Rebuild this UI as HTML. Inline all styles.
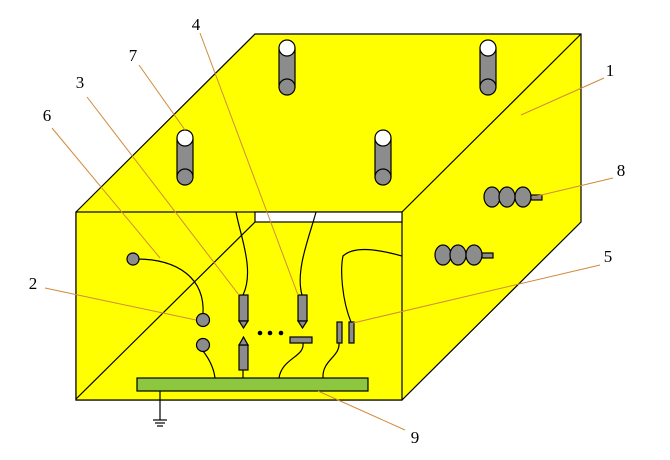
<!DOCTYPE html>
<html><head><style>body{margin:0;background:#fff}svg{display:block}</style></head><body>
<svg width="670" height="460" xmlns="http://www.w3.org/2000/svg" font-family="Liberation Serif, serif" font-size="17">
<g stroke="#000" stroke-width="1.2">
<polygon points="76,212 255,34 581,34 581,222 402,400 76,400" fill="#ffff00"/>
<line x1="402" y1="212" x2="581" y2="34"/>
<rect x="76" y="212" width="326" height="188" fill="#ffff00"/>
<rect x="255" y="212" width="147" height="10" fill="#fff"/>
<line x1="76" y1="399" x2="255" y2="222"/>
</g>
<g stroke="#000" stroke-width="1.2" fill="#8c8c8c">
<g id="c"><rect x="279" y="48" width="16" height="39"/><ellipse cx="287" cy="87" rx="8" ry="8"/><ellipse cx="287" cy="48" rx="8" ry="8" fill="#fff"/></g>
<use href="#c" x="201"/><use href="#c" x="-102" y="90"/><use href="#c" x="96" y="90"/>
</g>
<g fill="none" stroke="#000" stroke-width="1.2">
<path d="M133,259 C180,258 205,280 203,314"/>
<path d="M203,351 C210,360 214,370 215,378"/>
<path d="M236,212 C240,235 255,270 243,295"/>
<path d="M316,212 C310,235 295,270 302,295"/>
<line x1="243" y1="370" x2="243" y2="378"/>
<path d="M303,343 C305,357 282,358 279,378"/>
<path d="M339,343 C340,357 322,360 323,378"/>
<path d="M402,256 C380,250 355,245 343,256 C340,270 342,300 351,322"/>
<line x1="160" y1="391" x2="160" y2="420"/>
<line x1="153" y1="420" x2="167" y2="420"/><line x1="155" y1="423" x2="165" y2="423"/><line x1="157" y1="426" x2="163" y2="426"/>
</g>
<g stroke="#000" stroke-width="1.2" fill="#8c8c8c">
<circle cx="133" cy="259" r="6"/><circle cx="203" cy="320" r="6.5"/><circle cx="203" cy="345" r="6.5"/>
<rect x="239" y="295" width="9" height="26"/><polygon points="239,321 248,321 243.5,328"/>
<rect x="298" y="295" width="9" height="26"/><polygon points="298,321 307,321 302.5,328"/>
<rect x="239" y="345" width="9" height="25"/><polygon points="239,345 248,345 243.5,337"/>
<rect x="290" y="337" width="22" height="6"/>
<rect x="337" y="322" width="5" height="21"/><rect x="349" y="322" width="5" height="21"/>
<rect x="137" y="378" width="231" height="13" fill="#8dc63f"/>
<ellipse cx="492" cy="197" rx="8" ry="10"/><ellipse cx="507" cy="197" rx="8" ry="10"/><ellipse cx="523" cy="197" rx="8" ry="10"/><rect x="531" y="195" width="11" height="5"/>
<ellipse cx="443" cy="255" rx="8" ry="10"/><ellipse cx="458" cy="255" rx="8" ry="10"/><ellipse cx="474" cy="255" rx="8" ry="10"/><rect x="482" y="253" width="11" height="5"/>
</g>
<g fill="#000"><circle cx="260" cy="333" r="2.3"/><circle cx="270" cy="333" r="2.3"/><circle cx="281" cy="333" r="2.3"/></g>
<g stroke="#d08a3c" stroke-width="1">
<line x1="604" y1="78" x2="521" y2="115"/>
<line x1="613" y1="178" x2="533" y2="197"/>
<line x1="600" y1="265" x2="353" y2="323"/>
<line x1="405" y1="430" x2="318" y2="391"/>
<line x1="45" y1="288" x2="196" y2="320"/>
<line x1="52" y1="128" x2="160" y2="258"/>
<line x1="87" y1="97" x2="239" y2="295"/>
<line x1="139" y1="65" x2="185" y2="130"/>
<line x1="200" y1="33" x2="298" y2="295"/>
</g>
<g fill="#000" text-anchor="middle">
<text x="610" y="76">1</text><text x="621" y="176">8</text><text x="608" y="262">5</text><text x="415" y="443">9</text>
<text x="33" y="289">2</text><text x="47" y="121">6</text><text x="80" y="88">3</text><text x="133" y="61">7</text><text x="196" y="30">4</text>
</g>
</svg>
</body></html>
